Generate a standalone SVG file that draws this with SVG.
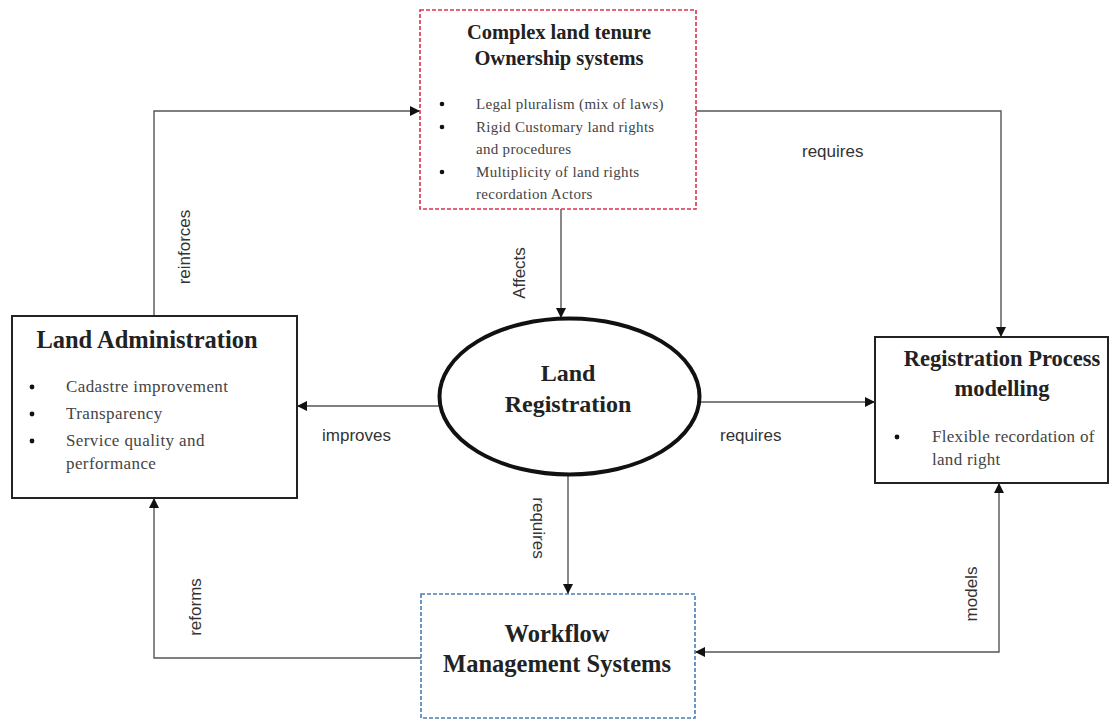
<svg xmlns="http://www.w3.org/2000/svg" width="1120" height="724" viewBox="0 0 1120 724">
<style>
.box{fill:#fff;stroke:#222;stroke-width:2}
.title{font-family:"Liberation Serif",serif;font-weight:bold;fill:#222;text-anchor:middle}
.item{font-family:"Liberation Serif",serif;fill:#444}
.lbl{font-family:"Liberation Sans",Arial,sans-serif;font-size:17px;fill:#333}
.conn{fill:none;stroke:#555;stroke-width:1.4}
.dot{fill:#111}
</style>
<defs>
<marker id="ah" viewBox="0 0 10 10" refX="10" refY="5" markerWidth="10" markerHeight="10" markerUnits="userSpaceOnUse" orient="auto-start-reverse">
<path d="M0,0 L10,5 L0,10 z" fill="#111"/>
</marker>
</defs>
<rect width="1120" height="724" fill="#fff"/>

<g id="connectors">
<path class="conn" d="M154,316 V111 H420" marker-end="url(#ah)"/>
<path class="conn" d="M696,111 H1001 V337" marker-end="url(#ah)"/>
<path class="conn" d="M561,209 V318" marker-end="url(#ah)"/>
<path class="conn" d="M439,406 H297" marker-end="url(#ah)"/>
<path class="conn" d="M700,402 H875" marker-end="url(#ah)"/>
<path class="conn" d="M568,475 V594" marker-end="url(#ah)"/>
<path class="conn" d="M421,658 H154 V498" marker-end="url(#ah)"/>
<path class="conn" d="M999,483 V652 H695" marker-start="url(#ah)" marker-end="url(#ah)"/>
<text class="lbl" x="802" y="157">requires</text>
<text class="lbl" x="322" y="441">improves</text>
<text class="lbl" x="720" y="441">requires</text>
<text class="lbl" text-anchor="middle" transform="translate(190,247) rotate(-90)">reinforces</text>
<text class="lbl" text-anchor="middle" transform="translate(525,273) rotate(-90)">Affects</text>
<text class="lbl" text-anchor="middle" transform="translate(533,528) rotate(90)">requires</text>
<text class="lbl" text-anchor="middle" transform="translate(201,607) rotate(-90)">reforms</text>
<text class="lbl" text-anchor="middle" transform="translate(977,594) rotate(-90)">models</text>
</g>

<g id="complex-land-tenure">
<rect x="420" y="10" width="276" height="199" fill="#fff" stroke="#d9334f" stroke-width="1.6" stroke-dasharray="4 2"/>
<text class="title" x="559" y="39" font-size="20.5">Complex land tenure</text>
<text class="title" x="559" y="65" font-size="20.5">Ownership systems</text>
<circle class="dot" cx="442" cy="104" r="2.3"/>
<circle class="dot" cx="442" cy="127" r="2.3"/>
<circle class="dot" cx="442" cy="172" r="2.3"/>
<g class="item" font-size="15" letter-spacing="0.3">
<text x="476" y="109">Legal pluralism (mix of laws)</text>
<text x="476" y="132">Rigid Customary land rights</text>
<text x="476" y="154">and procedures</text>
<text x="476" y="177">Multiplicity of land rights</text>
<text x="476" y="199">recordation Actors</text>
</g>
</g>

<g id="land-administration">
<rect class="box" x="12" y="316" width="285" height="182"/>
<text class="title" x="147" y="348" font-size="24.5">Land Administration</text>
<circle class="dot" cx="32" cy="387" r="2.4"/>
<circle class="dot" cx="32" cy="414" r="2.4"/>
<circle class="dot" cx="32" cy="441" r="2.4"/>
<g class="item" font-size="17" letter-spacing="0.4">
<text x="66" y="392">Cadastre improvement</text>
<text x="66" y="419">Transparency</text>
<text x="66" y="446">Service quality and</text>
<text x="66" y="469">performance</text>
</g>
</g>

<g id="land-registration">
<ellipse cx="569.5" cy="396.5" rx="130" ry="78" fill="#fff" stroke="#111" stroke-width="4"/>
<text class="title" x="568" y="381" font-size="24">Land</text>
<text class="title" x="568" y="412" font-size="24">Registration</text>
</g>

<g id="registration-process">
<rect class="box" x="875" y="337" width="233" height="146"/>
<text class="title" x="1002" y="366" font-size="22.5">Registration Process</text>
<text class="title" x="1002" y="396" font-size="22.5">modelling</text>
<circle class="dot" cx="897" cy="437" r="2.4"/>
<g class="item" font-size="17" letter-spacing="0.3">
<text x="932" y="442">Flexible recordation of</text>
<text x="932" y="465">land right</text>
</g>
</g>

<g id="workflow">
<rect x="421" y="594" width="274" height="124" fill="#fff" stroke="#4a7fb5" stroke-width="1.6" stroke-dasharray="4 2"/>
<text class="title" x="557" y="642" font-size="24.5">Workflow</text>
<text class="title" x="557" y="672" font-size="24.5">Management Systems</text>
</g>
</svg>
